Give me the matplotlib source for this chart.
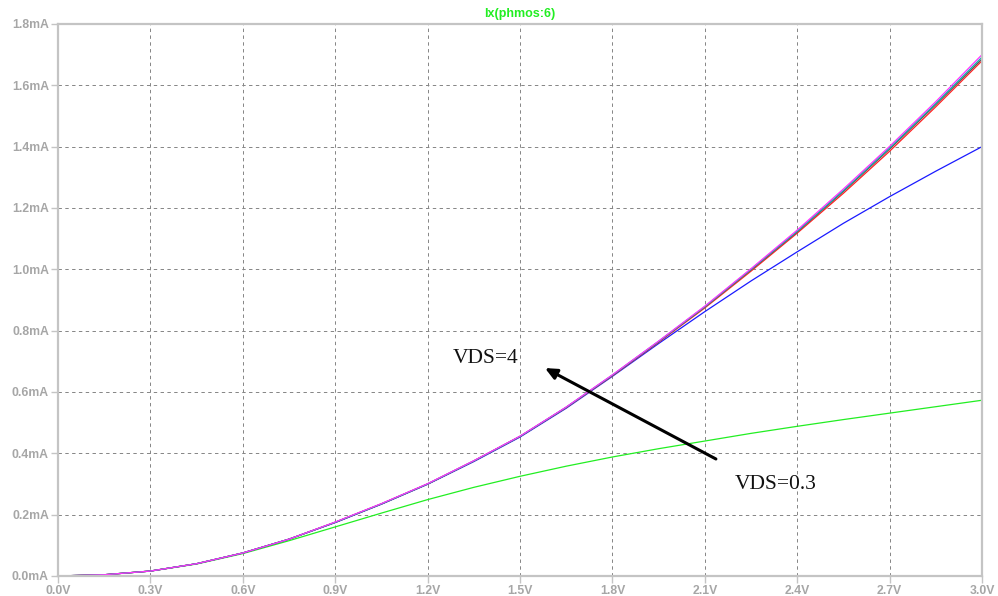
import numpy as np
import matplotlib.pyplot as plt

# gate voltage sweep (V) and drain current (mA) for each VDS step
vgs = [0.0, 0.15, 0.3, 0.45, 0.6, 0.75, 0.9, 1.05, 1.2, 1.35, 1.5,
       1.65, 1.8, 1.95, 2.1, 2.25, 2.4, 2.55, 2.7, 2.85, 3.0]

id_green = [0.0, 0.004, 0.016, 0.039, 0.073, 0.115, 0.160, 0.205, 0.249, 0.289, 0.325,
            0.358, 0.388, 0.415, 0.440, 0.465, 0.488, 0.510, 0.531, 0.552, 0.573]
id_blue = [0.0, 0.004, 0.016, 0.040, 0.075, 0.120, 0.174, 0.234, 0.299, 0.373, 0.453,
           0.547, 0.651, 0.758, 0.862, 0.962, 1.057, 1.150, 1.237, 1.320, 1.400]
id_red = [0.0, 0.004, 0.016, 0.040, 0.075, 0.120, 0.175, 0.235, 0.300, 0.375, 0.455,
          0.549, 0.653, 0.762, 0.874, 0.994, 1.118, 1.248, 1.385, 1.530, 1.680]
id_gray = [0.0, 0.004, 0.016, 0.040, 0.075, 0.120, 0.175, 0.235, 0.300, 0.375, 0.455,
           0.550, 0.654, 0.764, 0.877, 0.998, 1.122, 1.254, 1.392, 1.537, 1.686]
id_teal = [0.0, 0.004, 0.016, 0.040, 0.075, 0.120, 0.175, 0.235, 0.300, 0.375, 0.455,
           0.550, 0.655, 0.765, 0.878, 1.000, 1.124, 1.257, 1.396, 1.541, 1.692]
id_magenta = [0.0, 0.004, 0.016, 0.040, 0.075, 0.120, 0.176, 0.236, 0.301, 0.376, 0.456,
              0.551, 0.656, 0.766, 0.880, 1.002, 1.128, 1.262, 1.401, 1.547, 1.700]

traces = [(id_green, '#22ee22'), (id_blue, '#1a1aff'), (id_red, '#ff2020'),
          (id_gray, '#555555'), (id_teal, '#10b0b0'), (id_magenta, '#ff33ff')]

xticks = np.arange(0, 3.01, 0.3)
yticks = np.arange(0, 1.81, 0.2)

frame = '#c4c4c4'
label_gray = '#a6a6a6'

fig = plt.figure(figsize=(9.98, 5.96), dpi=100)
ax = fig.add_axes([0.0581, 0.0336, 0.9259, 0.9262])

for ys, c in traces:
    ax.plot(vgs, ys, color=c, lw=0.9)

ax.set_xlim(0, 3.0)
ax.set_ylim(0, 1.8)
ax.set_xticks(xticks)
ax.set_yticks(yticks)
ax.set_xticklabels(['%.1fV' % v for v in xticks])
ax.set_yticklabels(['%.1fmA' % v for v in yticks])

# dashed grid, skip the lines that sit on the frame
for v in xticks[1:-1]:
    ax.axvline(v, color='#858585', lw=0.7, ls=(0, (3.5, 3.5)), zorder=0)
for v in yticks[1:-1]:
    ax.axhline(v, color='#858585', lw=0.7, ls=(0, (3.5, 3.5)), zorder=0)

for s in ax.spines.values():
    s.set_color(frame)
    s.set_linewidth(1.6)
ax.tick_params(colors=frame, length=5, width=1, labelcolor=label_gray, pad=1.5)
for lab in ax.get_xticklabels() + ax.get_yticklabels():
    lab.set_family('Liberation Sans')
    lab.set_fontweight('bold')
    lab.set_fontsize(8.8)

ax.set_title('Ix(phmos:6)', color='#22ee22', fontsize=9, fontweight='bold',
             family='Liberation Sans', pad=5)

ax.annotate('', xy=(1.581, 0.678), xytext=(2.136, 0.3815),
            arrowprops=dict(arrowstyle='-|>,head_length=0.7,head_width=0.32',
                            color='black', lw=2.2, shrinkA=0, shrinkB=0))
ax.text(1.282, 0.6945, 'VDS=4', family='Liberation Serif', fontsize=15.5,
        color='#111111', va='baseline')
ax.text(2.198, 0.2837, 'VDS=0.3', family='Liberation Serif', fontsize=15.5,
        color='#111111', va='baseline')

fig.savefig('out.png', dpi=100)
